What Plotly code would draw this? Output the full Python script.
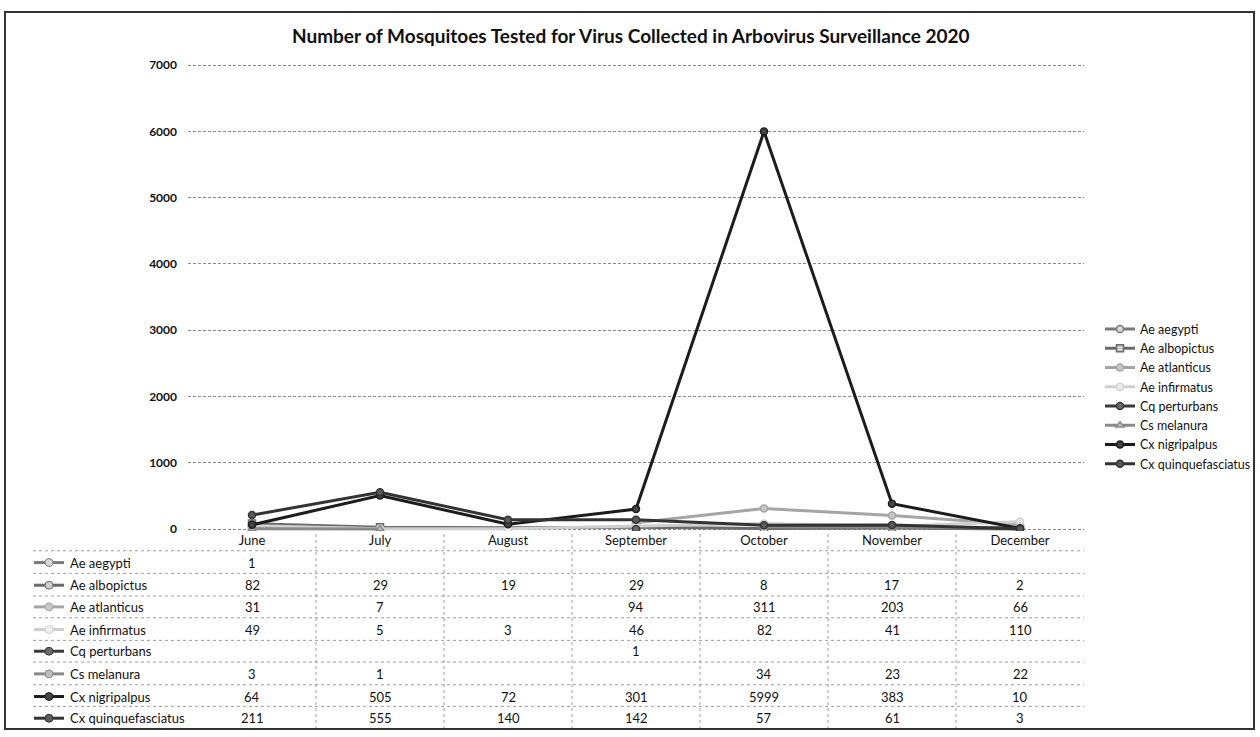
import plotly.graph_objects as go

months = ["June", "July", "August", "September", "October", "November", "December"]
species = ["Ae aegypti", "Ae albopictus", "Ae atlanticus", "Ae infirmatus",
           "Cq perturbans", "Cs melanura", "Cx nigripalpus", "Cx quinquefasciatus"]

ae_aegypti = [1, None, None, None, None, None, None]
ae_albopictus = [82, 29, 19, 29, 8, 17, 2]
ae_atlanticus = [31, 7, None, 94, 311, 203, 66]
ae_infirmatus = [49, 5, 3, 46, 82, 41, 110]
cq_perturbans = [None, None, None, 1, None, None, None]
cs_melanura = [3, 1, None, None, 34, 23, 22]
cx_nigripalpus = [64, 505, 72, 301, 5999, 383, 10]
cx_quinquefasciatus = [211, 555, 140, 142, 57, 61, 3]

series = [ae_aegypti, ae_albopictus, ae_atlanticus, ae_infirmatus,
          cq_perturbans, cs_melanura, cx_nigripalpus, cx_quinquefasciatus]
line_colors = ["#7a7a7a", "#6a6a6a", "#a5a5a5", "#cfcfcf",
               "#3a3a3a", "#8a8a8a", "#1c1c1c", "#333333"]
marker_fill = ["#d8d8d8", "#cfcfcf", "#c8c8c8", "#eeeeee",
               "#6a6a6a", "#bdbdbd", "#444444", "#5a5a5a"]
symbols = ["circle", "square", "circle", "circle", "circle", "triangle-up", "circle", "circle"]

FONT = "Lato"
W_FIG, H_FIG = 1260, 737
L, R = 188, 1084
PW = R - L


def px_x(px):
    return (px - L) / PW


def px_y(py):
    return (H_FIG - py) / H_FIG


fig = go.Figure()
for name, vals, lc, mf, sym in zip(species, series, line_colors, marker_fill, symbols):
    fig.add_trace(go.Scatter(
        x=months, y=vals, name=name, mode="lines+markers",
        line=dict(color=lc, width=3),
        marker=dict(symbol=sym, size=7, color=mf, line=dict(color=lc, width=1.5)),
        connectgaps=False,
    ))

annotations = []
shapes = []

# Title
annotations.append(dict(
    text="<b>Number of Mosquitoes Tested for Virus Collected in Arbovirus Surveillance 2020</b>",
    x=px_x(631), y=px_y(30), xref="paper", yref="paper", showarrow=False,
    font=dict(family=FONT, size=19, color="#111111"), xanchor="center", yanchor="middle"))

# Data table below the plot
row_y = [565, 588, 610, 633, 655, 678, 701, 723]
row_lines = [553, 576, 599, 621, 644, 666, 689, 711, 734]
for i, (name, vals) in enumerate(zip(species, series)):
    py = row_y[i]
    annotations.append(dict(
        text=name, x=px_x(68), y=px_y(py), xref="paper", yref="paper", showarrow=False,
        xanchor="left", yanchor="middle", font=dict(family=FONT, size=13, color="#111111")))
    shapes.append(dict(type="line", xref="paper", yref="paper",
                       x0=px_x(34), x1=px_x(64), y0=px_y(py), y1=px_y(py),
                       line=dict(color=line_colors[i], width=3)))
    shapes.append(dict(type="circle", xref="paper", yref="paper",
                       x0=px_x(45), x1=px_x(53), y0=px_y(py - 4), y1=px_y(py + 4),
                       fillcolor=marker_fill[i], line=dict(color=line_colors[i], width=1)))
    for m, v in zip(months, vals):
        if v is None:
            continue
        annotations.append(dict(
            text=str(v), x=m, y=px_y(py), xref="x", yref="paper", showarrow=False,
            xanchor="center", yanchor="middle", font=dict(family=FONT, size=13, color="#111111")))

for py in row_lines:
    shapes.append(dict(type="line", xref="paper", yref="paper",
                       x0=px_x(33), x1=px_x(1084), y0=px_y(py), y1=px_y(py),
                       line=dict(color="#a0a0a0", width=1, dash="dot")))
for k in range(1, 7):
    xx = px_x(L + 128 * k)
    shapes.append(dict(type="line", xref="paper", yref="paper",
                       x0=xx, x1=xx, y0=px_y(536), y1=px_y(734),
                       line=dict(color="#a0a0a0", width=1, dash="dot")))

# Outer frame
shapes.append(dict(type="rect", xref="paper", yref="paper",
                   x0=px_x(5), x1=px_x(1254), y0=px_y(6), y1=px_y(734),
                   line=dict(color="#333333", width=2)))

fig.update_layout(
    width=W_FIG, height=H_FIG,
    margin=dict(l=L, r=W_FIG - R, t=0, b=0),
    paper_bgcolor="white", plot_bgcolor="white",
    font=dict(family=FONT, size=12, color="#111111"),
    showlegend=True,
    legend=dict(x=px_x(1100), y=px_y(313), xanchor="left", yanchor="top",
                font=dict(family=FONT, size=12.5, color="#111111"),
                bgcolor="rgba(0,0,0,0)", itemwidth=30, tracegroupgap=0),
    xaxis=dict(type="category", range=[-0.5, 6.5], showgrid=False, zeroline=False,
               showline=False, ticks="", tickfont=dict(family=FONT, size=13, color="#111111")),
    yaxis=dict(domain=[px_y(533), px_y(58)], range=[-30, 7030],
               tickvals=[0, 1000, 2000, 3000, 4000, 5000, 6000, 7000],
               showgrid=True, gridcolor="#8a8a8a", griddash="3px,2px", gridwidth=1,
               zeroline=False, showline=False, ticks="", ticklabelstandoff=10,
               tickfont=dict(family=FONT, size=12, color="#111111", weight="bold")),
    annotations=annotations,
    shapes=shapes,
)

fig.write_html(
    "out.html",
    config={"displayModeBar": False},
    post_script=(
        "document.documentElement.style.overflow='hidden';"
        "document.body.style.margin='0';document.body.style.overflow='hidden';"
        "var d=document.getElementById('{plot_id}');"
        "d.style.position='absolute';d.style.left='0px';d.style.top='0px';"
    ),
)
